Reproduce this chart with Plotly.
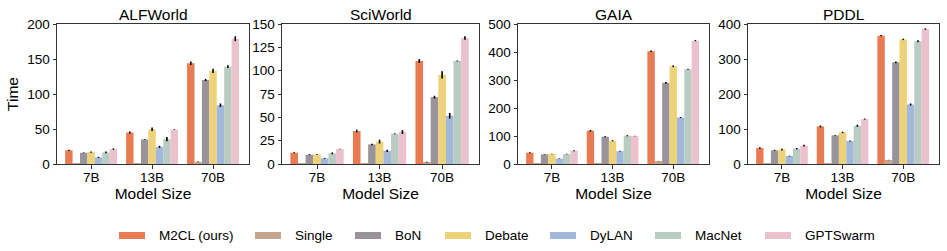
import plotly.graph_objects as go
from plotly.subplots import make_subplots

sizes = ["7B", "13B", "70B"]
methods = ["M2CL (ours)", "Single", "BoN", "Debate", "DyLAN", "MacNet", "GPTSwarm"]
colors = ["#E97B53", "#C4A690", "#9A9399", "#EDD27A", "#A2B8DA", "#B8CCC4", "#EBC1CE"]
panels = ["ALFWorld", "SciWorld", "GAIA", "PDDL"]

# values[method] = [7B, 13B, 70B]
alfworld = {
    "M2CL (ours)": [19.5, 45, 144], "Single": [0.5, 1, 3], "BoN": [16, 35, 120],
    "Debate": [17, 49.5, 133], "DyLAN": [9.5, 24.5, 84], "MacNet": [16.5, 35.5, 139],
    "GPTSwarm": [21.3, 49, 179],
}
alfworld_err = {
    "M2CL (ours)": [1, 1.5, 2.5], "Single": [0, 0, 0.5], "BoN": [0.5, 0.5, 1.5],
    "Debate": [1, 2.5, 3], "DyLAN": [0.8, 1.5, 2.5], "MacNet": [1.2, 3, 2],
    "GPTSwarm": [1, 0.5, 3.5],
}
sciworld = {
    "M2CL (ours)": [12.1, 35.3, 110.4], "Single": [0.3, 0.5, 2], "BoN": [10, 21, 71.6],
    "Debate": [10.3, 24, 95.5], "DyLAN": [6, 14, 51.7], "MacNet": [11.4, 32.4, 110.4],
    "GPTSwarm": [16, 34.2, 135],
}
sciworld_err = {
    "M2CL (ours)": [0.5, 1.5, 2], "Single": [0, 0, 0.3], "BoN": [0.5, 0.8, 1.5],
    "Debate": [0.5, 2, 4], "DyLAN": [0.5, 1.2, 3], "MacNet": [1, 0.5, 0.5],
    "GPTSwarm": [0.3, 2, 2],
}
gaia = {
    "M2CL (ours)": [40.4, 118.8, 402.6], "Single": [1, 2, 10.7], "BoN": [34.4, 97.4, 290],
    "Debate": [35.6, 83, 349], "DyLAN": [19, 46, 166], "MacNet": [35.6, 101, 338.5],
    "GPTSwarm": [47.5, 99.8, 440.6],
}
gaia_err = {
    "M2CL (ours)": [2, 3, 3], "Single": [0, 0, 0.5], "BoN": [1, 2, 3],
    "Debate": [1, 2, 3], "DyLAN": [1, 1, 2], "MacNet": [1, 2, 2],
    "GPTSwarm": [2, 1, 2],
}
pddl = {
    "M2CL (ours)": [45.6, 107.4, 366.7], "Single": [1, 2, 11.4], "BoN": [39, 81.7, 290.7],
    "Debate": [40.9, 90.3, 356], "DyLAN": [22.8, 65.6, 170], "MacNet": [43.7, 109.3, 350.8],
    "GPTSwarm": [52.3, 128.3, 385.7],
}
pddl_err = {
    "M2CL (ours)": [2, 2.5, 2], "Single": [0, 0, 0.5], "BoN": [1.5, 1, 2.5],
    "Debate": [2.5, 2, 2], "DyLAN": [1, 1.5, 3], "MacNet": [2, 3, 3],
    "GPTSwarm": [2.5, 1.5, 2],
}
data = [alfworld, sciworld, gaia, pddl]
errs = [alfworld_err, sciworld_err, gaia_err, pddl_err]
y_ranges = [[0, 200], [0, 150], [0, 500], [0, 400]]
y_dticks = [50, 25, 100, 100]

FONT = "Liberation Sans, Arial, Helvetica, sans-serif"
W, H = 947, 251
ml, mr, mt, mb = 57, 8, 24, 87
pw = W - ml - mr
ph = H - mt - mb
px_domains = [(57, 249), (282, 479), (518, 709), (748, 939)]
domains = [((a - ml) / pw, (b - ml) / pw) for a, b in px_domains]

fig = make_subplots(rows=1, cols=4, subplot_titles=panels)

for p in range(4):
    for m, c in zip(methods, colors):
        fig.add_trace(
            go.Bar(
                x=sizes, y=data[p][m], name=m, marker_color=c,
                marker_line_width=0,
                error_y=dict(type="data", array=errs[p][m], color="black",
                             thickness=1.6, width=0),
                showlegend=False, legendgroup=m,
            ),
            row=1, col=p + 1,
        )
    ax = "" if p == 0 else str(p + 1)
    fig.layout["xaxis" + ax].update(
        domain=domains[p], range=[-0.56, 2.59], automargin=False,
        showline=True, mirror=True, linecolor="#333", linewidth=1,
        ticks="outside", ticklen=3.5, tickwidth=0.8, tickcolor="#333",
        ticklabelstandoff=-3,
        tickfont=dict(size=13.5, color="black", family=FONT),
        title=dict(text="Model Size", font=dict(size=15.5, color="black", family=FONT), standoff=0),
        showgrid=False, zeroline=False,
    )
    fig.layout["yaxis" + ax].update(
        range=y_ranges[p], dtick=y_dticks[p], automargin=False,
        showline=True, mirror=True, linecolor="#333", linewidth=1,
        ticks="outside", ticklen=3.5, tickwidth=0.8, tickcolor="#333",
        tickfont=dict(size=13.5, color="black", family=FONT),
        showgrid=False, zeroline=False,
    )

fig.layout.yaxis.title = dict(text="Time", font=dict(size=15.5, color="black", family=FONT), standoff=4)

for i, a in enumerate(fig.layout.annotations):
    a.font = dict(size=15.5, color="black", family=FONT)
    a.x = (domains[i][0] + domains[i][1]) / 2
    a.yshift = -1

# custom legend (wide flat swatches like the reference)
legend_px = [119, 255, 355, 445, 550, 655, 765]
legend_y = 235.5
for m, c, xs in zip(methods, colors, legend_px):
    fig.add_shape(
        type="rect", xref="paper", yref="paper",
        x0=(xs - ml) / pw, x1=(xs + 26 - ml) / pw,
        y0=(H - mb - (legend_y + 3.5)) / ph, y1=(H - mb - (legend_y - 3.5)) / ph,
        fillcolor=c, line_width=0,
    )
    fig.add_annotation(
        text=m, xref="paper", yref="paper",
        x=(xs + 37.5 - ml) / pw, y=(H - mb - legend_y) / ph,
        xanchor="left", yanchor="middle", showarrow=False,
        font=dict(size=13.5, color="black", family=FONT),
    )

fig.update_layout(
    width=W, height=H,
    margin=dict(l=ml, r=mr, t=mt, b=mb, autoexpand=False),
    paper_bgcolor="white", plot_bgcolor="white",
    barmode="group", bargap=0.148, bargroupgap=0,
    font=dict(family=FONT, color="black"),
    showlegend=False,
)

fig.write_html("out.html", config={"displayModeBar": False},
               post_script="document.body.style.margin='0';")
